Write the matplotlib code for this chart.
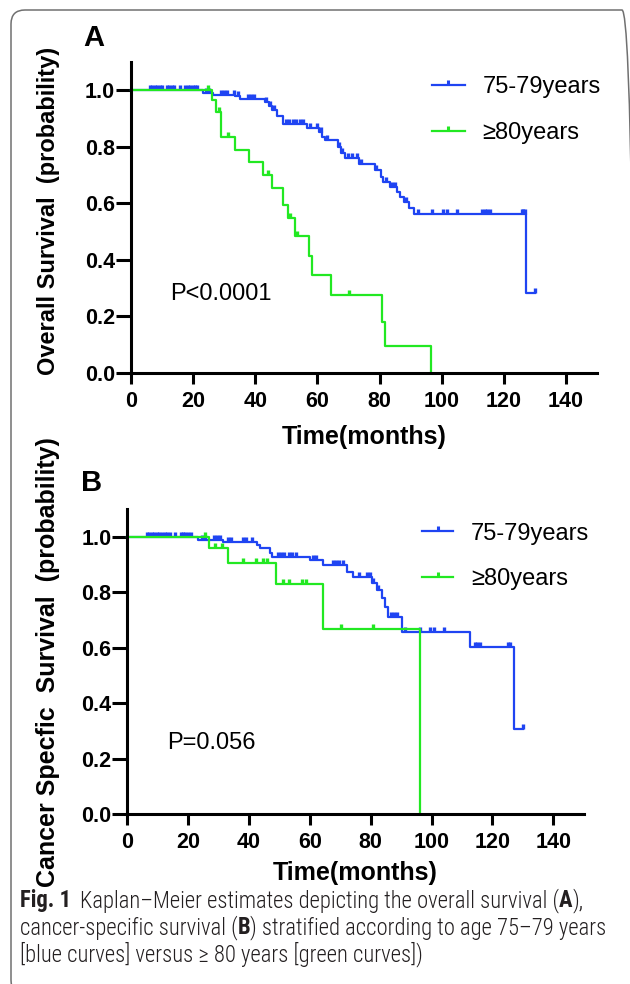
import numpy as np
import matplotlib
matplotlib.use('Agg')
import matplotlib.pyplot as plt
from matplotlib.lines import Line2D
from matplotlib.patches import FancyBboxPatch
from matplotlib import font_manager

plt.rcParams['font.family'] = ['Liberation Sans', 'DejaVu Sans']

BLUE = '#1f44f2'
GREEN = '#22e822'

# ---- panel A: overall survival (step times in months, survival after the step)
os_young_t = [0, 23.2, 26.5, 33.5, 35, 43, 44.5, 45.5, 47, 49, 56.5, 60.5, 61.5,
              62.5, 66.5, 67.5, 69, 73.5, 78.5, 80.5, 81, 83.5, 85.5, 86.5, 88,
              89.5, 91, 127.2]
os_young_s = [1.0, 0.99, 0.985, 0.979, 0.968, 0.959, 0.945, 0.93, 0.91, 0.882,
              0.868, 0.853, 0.835, 0.823, 0.80, 0.777, 0.76, 0.74, 0.717, 0.694,
              0.676, 0.658, 0.64, 0.623, 0.605, 0.585, 0.564, 0.282]
os_young_end = 129.9
os_young_cens = [6, 6.8, 7.6, 8.4, 9.2, 10, 11.5, 12.3, 13.1, 14, 15.8, 17.4, 18.2,
                 19, 19.8, 20.6, 21.4, 24, 25, 29, 30, 31, 33, 34.5, 37.5, 38.5,
                 39.5, 43.5, 44.8, 46, 50, 51, 52, 53, 54.5, 55.5, 57.5, 60, 61,
                 63, 67, 68, 70, 71, 72.7, 74, 79, 82, 84, 85, 88.5, 92.3, 97,
                 100.3, 101.6, 104.8, 113, 113.8, 114.6, 115.4, 125.7, 126.2,
                 126.7, 129.9]

os_old_t = [0, 26, 27.5, 29.1, 33.4, 38, 42.5, 45.5, 48.8, 50.6, 52.7, 57.2, 58.4,
            64.3, 80.8, 81.7, 96.5]
os_old_s = [1.0, 0.965, 0.923, 0.835, 0.79, 0.745, 0.70, 0.653, 0.594, 0.547,
            0.484, 0.413, 0.346, 0.276, 0.182, 0.094, 0.0]
os_old_end = 96.5
os_old_cens = [24.8, 28.3, 31.2, 44, 51.1, 53.5, 70.2]

# ---- panel B: cancer specific survival
css_young_t = [0, 23.3, 31.5, 42.5, 43.6, 46.9, 47.5, 60, 64.4, 72.1, 74.3, 80.5,
               81.9, 83.6, 84.7, 85.8, 90.2, 112.6, 127.1]
css_young_s = [1.0, 0.99, 0.982, 0.97, 0.958, 0.94, 0.928, 0.916, 0.898, 0.874,
               0.856, 0.835, 0.808, 0.778, 0.748, 0.712, 0.658, 0.604, 0.306]
css_young_end = 130.1
css_young_cens = [6.4, 7.2, 8, 8.8, 9.6, 10.4, 11.5, 12.3, 13.2, 14, 15.8, 17.5,
                  18.3, 19.1, 20, 21, 24.5, 25.5, 28.5, 29.5, 30.5, 33, 34, 38, 39,
                  41, 49.5, 50.5, 51.5, 53, 54, 55.5, 61, 62, 67.6, 68.5, 69.5, 71,
                  76, 78.7, 79.7, 80.8, 82.5, 86.5, 87.5, 88.5, 91.1, 96.1, 99.6,
                  100.7, 104, 114.3, 115, 116, 125, 125.8, 130.1]

css_old_t = [0, 27, 33.2, 48.8, 64.4, 96.2]
css_old_s = [1.0, 0.958, 0.906, 0.83, 0.666, 0.0]
css_old_end = 96.2
css_old_cens = [25.5, 28.8, 31, 38.1, 42.3, 44.5, 45.8, 51, 53.2, 57.3, 58.7, 70.1, 80.8]

groups = ['75-79years', '≥80years']
xticks = [0, 20, 40, 60, 80, 100, 120, 140]
yticks = [0.0, 0.2, 0.4, 0.6, 0.8, 1.0]

W, H = 630, 984
fig = plt.figure(figsize=(W / 100, H / 100), dpi=100)


def surv_at(t, s, x):
    i = np.searchsorted(t, x, side='right') - 1
    return np.asarray(s)[i]


def km_panel(ax, curves, ptext, ppos, hlen):
    for t, s, end, cens, color in curves:
        ax.step(list(t) + [end], list(s) + [s[-1]], where='post', color=color,
                lw=1.6, clip_on=False)
        ax.plot(cens, surv_at(t, s, cens), ls='none', marker=2, ms=3.8, mew=2.4,
                color=color, clip_on=False)
    ax.set_xlim(0, 150)
    ax.set_ylim(0, 1.1)
    ax.set_xticks(xticks)
    ax.set_yticks(yticks)
    ax.set_xticklabels([str(v) for v in xticks], fontsize=15.5, fontweight='bold')
    ax.set_yticklabels(['%.1f' % v for v in yticks], fontsize=15.5, fontweight='bold')
    ax.tick_params(axis='x', length=8, width=2.2, pad=5)
    ax.tick_params(axis='y', length=10.5, width=2.2, pad=1)
    for side in ['top', 'right']:
        ax.spines[side].set_visible(False)
    for side in ['left', 'bottom']:
        ax.spines[side].set_linewidth(2.2)
    ax.text(ppos[0], ppos[1], ptext, fontsize=17, ha='center', va='center')
    handles = [Line2D([0], [0], color=c, lw=1.6, marker=2, ms=3.8, mew=2.2)
               for c in (BLUE, GREEN)]
    ax.legend(handles, groups, loc='center left', bbox_to_anchor=(0.645, 0.845),
              frameon=False, fontsize=17, handlelength=hlen, handletextpad=0.75,
              labelspacing=1.0, borderpad=0, borderaxespad=0, numpoints=1)


axA = fig.add_axes([131 / W, 1 - 373 / H, (597 - 131) / W, 311 / H])
km_panel(axA, [(os_young_t, os_young_s, os_young_end, os_young_cens, BLUE),
               (os_old_t, os_old_s, os_old_end, os_old_cens, GREEN)],
         'P<0.0001', (29, 0.28), 1.41)

axB = fig.add_axes([127.3 / W, 1 - 814.2 / H, (583.8 - 127.3) / W, 305.2 / H])
km_panel(axB, [(css_young_t, css_young_s, css_young_end, css_young_cens, BLUE),
               (css_old_t, css_old_s, css_old_end, css_old_cens, GREEN)],
         'P=0.056', (27.5, 0.257), 1.34)

# axis titles and panel letters
fig.text(48 / W, 1 - 211 / H, 'Overall Survival  (probability)', rotation=90,
         fontsize=17, fontweight='bold', ha='center', va='center')
fig.text(48 / W, 1 - 662 / H, 'Cancer Specfic  Survival  (probability)', rotation=90,
         fontsize=18, fontweight='bold', ha='center', va='center')
fig.text(364 / W, 1 - 437 / H, 'Time(months)', fontsize=18, fontweight='bold',
         ha='center', va='center')
fig.text(355.5 / W, 1 - 873 / H, 'Time(months)', fontsize=18, fontweight='bold',
         ha='center', va='center')
fig.text(94 / W, 1 - 38 / H, 'A', fontsize=21, fontweight='bold', ha='center', va='center')
fig.text(92 / W, 1 - 483 / H, 'B', fontsize=21, fontweight='bold', ha='center', va='center')

# rounded frame
fig.add_artist(FancyBboxPatch((0.11, -0.1), 6.25, 9.84,
                              boxstyle='round,pad=0,rounding_size=0.14',
                              transform=fig.dpi_scale_trans, fill=False,
                              ec='#707070', lw=1.1))

# caption
names = {f.name for f in font_manager.fontManager.ttflist}
cap_family = 'Liberation Sans'
for cand in ['Roboto Condensed', 'Liberation Sans Narrow', 'Open Sans Condensed',
             'Noto Sans Condensed', 'Roboto']:
    if cand in names:
        cap_family = cand
        break

caption = [
    [('Fig. 1', True, 9), ('Kaplan–Meier estimates depicting the overall survival (', False, 0),
     ('A', True, 0), ('),', False, 0)],
    [('cancer-specific survival (', False, 0), ('B', True, 0),
     (') stratified according to age 75–79 years', False, 0)],
    [('[blue curves] versus ≥ 80 years [green curves])', False, 0)],
]
cap_base = [907, 934, 961]

renderer = fig.canvas.get_renderer()
probe = fig.text(0, 0, 'cancer-specific survival (B) stratified according to age 75–79 years',
                 fontsize=10, family=cap_family, fontweight='light')
wprobe = probe.get_window_extent(renderer).width
probe.remove()
cap_size = 10 * 586 / wprobe

for line, yb in zip(caption, cap_base):
    x = 20
    for txt, bold, gap in line:
        t = fig.text(x / W, 1 - yb / H, txt, fontsize=cap_size, family=cap_family,
                     fontweight='bold' if bold else 'light', va='baseline',
                     color='#231f20')
        x = t.get_window_extent(renderer).x1 + gap

fig.savefig('out.png', dpi=100)
